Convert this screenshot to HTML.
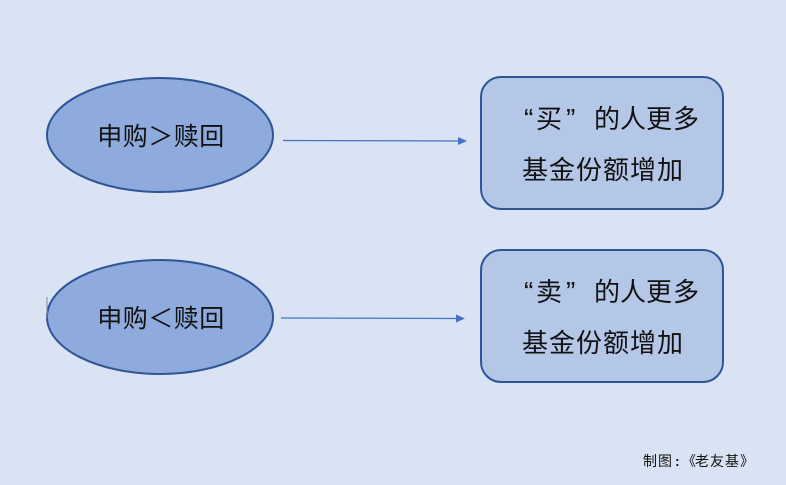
<!DOCTYPE html>
<html>
<head>
<meta charset="utf-8">
<style>
html,body{margin:0;padding:0;background:#dae3f3;}
svg{display:block;}
.t{font-family:"Liberation Sans","Noto Sans CJK SC",sans-serif;fill:#111;}
.c{font-family:"Noto Sans CJK SC",sans-serif;fill:#111;}
</style>
</head>
<body>
<svg width="786" height="485" viewBox="0 0 786 485" xmlns="http://www.w3.org/2000/svg">
<rect x="0" y="0" width="786" height="485" fill="#dae3f3"/>
<!-- ellipses -->
<ellipse cx="160" cy="135" rx="113" ry="57" fill="#8faadc" stroke="#2f5597" stroke-width="2"/>
<ellipse cx="160" cy="317" rx="113" ry="57" fill="#8faadc" stroke="#2f5597" stroke-width="2"/>
<line x1="47" y1="297" x2="47" y2="318" stroke="#888" stroke-width="1"/>
<text class="t" x="161" y="145" font-size="25" text-anchor="middle" letter-spacing="0.5">申购＞赎回</text>
<text class="t" x="161" y="327" font-size="25" text-anchor="middle" letter-spacing="0.5">申购＜赎回</text>
<!-- arrows -->
<line x1="283" y1="140.5" x2="459" y2="141" stroke="#4472c4" stroke-width="1.2"/>
<polygon points="458,137 467,141 458,145" fill="#4472c4"/>
<line x1="281" y1="318" x2="457" y2="318.5" stroke="#4472c4" stroke-width="1.2"/>
<polygon points="456,314.5 465,318.5 456,322.5" fill="#4472c4"/>
<!-- boxes -->
<rect x="481" y="77" width="242" height="132" rx="20" ry="20" fill="#b4c7e7" stroke="#2f5597" stroke-width="2"/>
<rect x="481" y="250" width="242" height="132" rx="20" ry="20" fill="#b4c7e7" stroke="#2f5597" stroke-width="2"/>

<g font-size="26">
<text class="t" x="524" y="128" font-family="Liberation Serif, serif" font-size="28">“</text>
<text class="c" x="536" y="128">买</text>
<text class="t" x="566" y="128" font-family="Liberation Serif, serif" font-size="28">”</text>
<text class="c" x="594" y="128">的</text>
<text class="c" x="620" y="128">人</text>
<text class="c" x="646" y="128">更</text>
<text class="c" x="673" y="128">多</text>
<text class="t" x="522" y="179" letter-spacing="1">基金份额增加</text>

<text class="t" x="524" y="301" font-family="Liberation Serif, serif" font-size="28">“</text>
<text class="c" x="536" y="301">卖</text>
<text class="t" x="566" y="301" font-family="Liberation Serif, serif" font-size="28">”</text>
<text class="c" x="594" y="301">的</text>
<text class="c" x="620" y="301">人</text>
<text class="c" x="646" y="301">更</text>
<text class="c" x="673" y="301">多</text>
<text class="t" x="522" y="352" letter-spacing="1">基金份额增加</text>
</g>

<!-- footer -->
<g font-size="14">
<text class="c" x="643" y="466">制</text>
<text class="c" x="658" y="466">图</text>
<text class="t" x="675" y="466" font-weight="bold">:</text>
<text class="c" x="682" y="466">《</text>
<text class="c" x="695" y="466">老</text>
<text class="c" x="710" y="466">友</text>
<text class="c" x="725" y="466">基</text>
<text class="c" x="740" y="466">》</text>
</g>
</svg>
</body>
</html>
